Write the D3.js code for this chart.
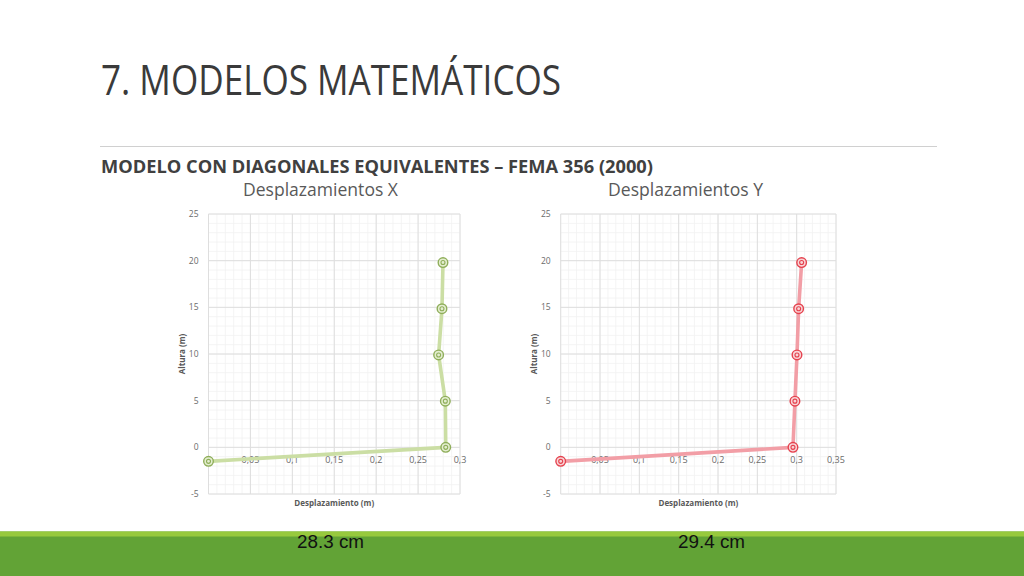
<!DOCTYPE html>
<html><head><meta charset="utf-8">
<script src="https://cdn.jsdelivr.net/npm/d3@7"></script>
<style>body{margin:0;background:#fff}svg{display:block}</style>
</head><body>
<svg id="c" width="1024" height="576"></svg>
<script>
// ---- data ----
const heights = [-1.5, 0, 4.95, 9.9, 14.85, 19.8];
const dispX = [0, 0.283, 0.2825, 0.2745, 0.2785, 0.2797];
const dispY = [0, 0.2953, 0.2978, 0.3004, 0.3025, 0.3063];
const xTicksX = [0, 0.05, 0.1, 0.15, 0.2, 0.25, 0.3];
const xTicksY = [0, 0.05, 0.1, 0.15, 0.2, 0.25, 0.3, 0.35];
const yTicks = [-5, 0, 5, 10, 15, 20, 25];
const chartTitles = ["Desplazamientos X", "Desplazamientos Y"];
const maxLabels = ["28.3 cm", "29.4 cm"];

const svg = d3.select("#c");
const font = "'Open Sans', 'Noto Sans', sans-serif";

// heading
svg.append("text").attr("x", 101).attr("y", 95)
  .attr("font-family", font).attr("font-size", 42).attr("fill", "#3a3a3a")
  .attr("textLength", 460).attr("lengthAdjust", "spacingAndGlyphs")
  .text("7. MODELOS MATEMÁTICOS");
svg.append("line").attr("x1", 100).attr("x2", 937).attr("y1", 146.5).attr("y2", 146.5)
  .attr("stroke", "#d0d0d0").attr("stroke-width", 1.2);
svg.append("text").attr("x", 101).attr("y", 173)
  .attr("font-family", font).attr("font-size", 18.5).attr("font-weight", "bold").attr("fill", "#404040")
  .attr("textLength", 552).attr("lengthAdjust", "spacingAndGlyphs")
  .text("MODELO CON DIAGONALES EQUIVALENTES – FEMA 356 (2000)");

// bottom bar
svg.append("rect").attr("x", 0).attr("y", 531.5).attr("width", 1024).attr("height", 44.5).attr("fill", "#62a336");
svg.append("rect").attr("x", 0).attr("y", 531.5).attr("width", 1024).attr("height", 5).attr("fill", "#97c93d");

function chart(cfg) {
  const x = d3.scaleLinear().domain([0, cfg.xmax]).range([cfg.x0, cfg.x1]);
  const y = d3.scaleLinear().domain([-5, 25]).range([494, 214]);
  const g = svg.append("g");
  // minor grid
  const minorX = d3.range(0, cfg.xmax + 1e-9, 0.01);
  const minorY = d3.range(-5, 25.001, 1);
  g.selectAll(".mx").data(minorX).join("line")
    .attr("x1", d => x(d)).attr("x2", d => x(d)).attr("y1", y(-5)).attr("y2", y(25))
    .attr("stroke", "#f1f1f1").attr("stroke-width", 0.8);
  g.selectAll(".my").data(minorY).join("line")
    .attr("x1", x(0)).attr("x2", x(cfg.xmax)).attr("y1", d => y(d)).attr("y2", d => y(d))
    .attr("stroke", "#f1f1f1").attr("stroke-width", 0.8);
  // major grid
  g.selectAll(".Mx").data(cfg.xticks).join("line")
    .attr("x1", d => x(d)).attr("x2", d => x(d)).attr("y1", y(-5)).attr("y2", y(25))
    .attr("stroke", "#dedede").attr("stroke-width", 1);
  g.selectAll(".My").data(yTicks).join("line")
    .attr("x1", x(0)).attr("x2", x(cfg.xmax)).attr("y1", d => y(d)).attr("y2", d => y(d))
    .attr("stroke", "#dedede").attr("stroke-width", 1);
  // y tick labels
  g.selectAll(".yl").data(yTicks).join("text")
    .attr("x", x(0) - 10).attr("y", d => y(d) + 3)
    .attr("text-anchor", "end").attr("font-family", font).attr("font-size", 8.5).attr("fill", "#6b6b6b")
    .text(d => d);
  // x tick labels on y=0 axis
  g.selectAll(".xl").data(cfg.xticks).join("text")
    .attr("x", d => x(d)).attr("y", y(0) + 16)
    .attr("text-anchor", "middle").attr("font-family", font).attr("font-size", 9).attr("fill", "#6b6b6b")
    .text(d => String(+d.toFixed(2)).replace(".", ","));
  // axis titles
  g.append("text").attr("transform", `translate(${cfg.x0 - 24},${y(10)}) rotate(-90)`)
    .attr("text-anchor", "middle").attr("font-family", font).attr("font-size", 8).attr("font-weight", "bold").attr("fill", "#595959")
    .text("Altura (m)");
  g.append("text").attr("x", (cfg.x0 + cfg.x1) / 2).attr("y", 506)
    .attr("text-anchor", "middle").attr("font-family", font).attr("font-size", 8).attr("font-weight", "bold").attr("fill", "#595959")
    .text("Desplazamiento (m)");
  // chart title
  svg.append("text").attr("x", cfg.tx).attr("y", 196)
    .attr("font-family", font).attr("font-size", 18.5).attr("fill", "#595959")
    .attr("textLength", 155).attr("lengthAdjust", "spacingAndGlyphs")
    .text(cfg.title);
  // line
  const pts = heights.map((h, i) => [cfg.values[i], h]);
  g.append("path").datum(pts)
    .attr("d", d3.line().x(d => x(d[0])).y(d => y(d[1])))
    .attr("fill", "none").attr("stroke", cfg.line).attr("stroke-width", 3.6).attr("stroke-linejoin", "round");
  const m = g.selectAll(".m").data(pts).join("g").attr("transform", d => `translate(${x(d[0])},${y(d[1])})`);
  m.append("circle").attr("r", 4.8).attr("fill", cfg.fill).attr("stroke", cfg.mark).attr("stroke-width", 1.4);
  m.append("circle").attr("r", 2).attr("fill", "none").attr("stroke", cfg.mark).attr("stroke-width", 1.1);
  // max label
  svg.append("text").attr("x", cfg.lx).attr("y", 548)
    .attr("font-family", "'Liberation Sans', Arial, sans-serif").attr("font-size", 18).attr("fill", "#111")
    .attr("textLength", 67).attr("lengthAdjust", "spacingAndGlyphs")
    .text(cfg.label);
}

chart({x0: 208.5, x1: 460, xmax: 0.3, xticks: xTicksX, values: dispX, title: chartTitles[0], tx: 243,
  line: "#cbdea4", mark: "#8fae5a", fill: "#e4eed0", label: maxLabels[0], lx: 297});
chart({x0: 560.7, x1: 836, xmax: 0.35, xticks: xTicksY, values: dispY, title: chartTitles[1], tx: 608,
  line: "#f29ea6", mark: "#e5414d", fill: "#f8d4d6", label: maxLabels[1], lx: 678});
</script>
</body></html>
